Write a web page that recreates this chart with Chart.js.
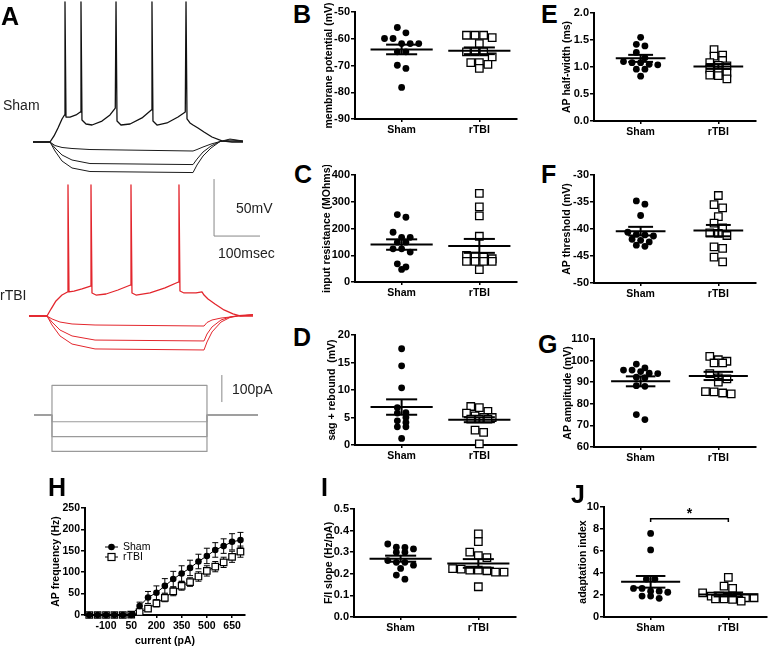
<!DOCTYPE html>
<html>
<head>
<meta charset="utf-8">
<script src="https://cdn.jsdelivr.net/npm/chart.js@4.4.1/dist/chart.umd.min.js"></script>
<style>
  body { margin: 0; background: #fff; }
  #fig { position: relative; width: 771px; height: 648px; overflow: hidden; font-family: 'Liberation Sans', Arial, Helvetica, sans-serif; }
  #fig canvas { position: absolute; }
  .lt { position: absolute; font-weight: bold; font-size: 25px; line-height: 1; color: #000; }
  .tx { position: absolute; font-size: 14px; line-height: 1; color: #222; white-space: nowrap; }
</style>
</head>
<body>
<div id="fig">
  <canvas id="aSham"></canvas>
  <canvas id="aRtbi"></canvas>
  <canvas id="aStim"></canvas>
  <canvas id="cB"></canvas><canvas id="cC"></canvas><canvas id="cD"></canvas>
  <canvas id="cE"></canvas><canvas id="cF"></canvas><canvas id="cG"></canvas>
  <canvas id="cH"></canvas><canvas id="cI"></canvas><canvas id="cJ"></canvas>

  <div class="lt" style="left:1px;top:4px">A</div>
  <div class="lt" style="left:293px;top:2px">B</div>
  <div class="lt" style="left:294px;top:162px">C</div>
  <div class="lt" style="left:293px;top:325px">D</div>
  <div class="lt" style="left:541px;top:2px">E</div>
  <div class="lt" style="left:541px;top:162px">F</div>
  <div class="lt" style="left:538px;top:332px">G</div>
  <div class="lt" style="left:48px;top:475px">H</div>
  <div class="lt" style="left:321px;top:475px">I</div>
  <div class="lt" style="left:571px;top:482px">J</div>

  <div class="tx" style="left:3px;top:98px">Sham</div>
  <div class="tx" style="left:0px;top:288px">rTBI</div>
  <div class="tx" style="left:236px;top:201px">50mV</div>
  <div class="tx" style="left:218px;top:246px">100msec</div>
  <div class="tx" style="left:232px;top:382px">100pA</div>
</div>

<script>
Chart.defaults.font.family = "'Liberation Sans', Arial, Helvetica, sans-serif";
Chart.defaults.color = '#000';

const groups = ['Sham', 'rTBI'];

// ---- A: example traces (ms, mV) ----
const shamSpikeT = [0, 27.4, 33.9, 40.3, 46.8, 50.8, 51.6, 53.2, 59.7, 69.4, 76.3, 77.4, 79.0, 85.5, 95.2, 111.3, 124.2, 132.7, 133.9, 135.5, 141.9, 156.5, 175.8, 190.8, 191.9, 193.5, 200.0, 216.1, 233.9, 245.6, 246.8, 248.4, 253.2, 258.1, 266.1, 275.8, 288.7, 304.8, 321.0, 338.7];
const shamSpikeV = [-65, -65, -59.7, -52.7, -44.8, -41.3, 57.8, -43.1, -43.1, -41.3, -38.7, 57.8, -45.7, -49.2, -50.1, -46.6, -41.3, -35.2, 57.8, -46.6, -50.1, -49.2, -43.9, -36.9, 57.8, -46.6, -50.1, -48.3, -43.1, -38.7, 57.8, -44.8, -48.3, -50.1, -52.7, -56.2, -60.6, -64.1, -65, -65];
const shamHypT = [0, 27.4, 35.5, 46.8, 62.9, 91.9, 258.1, 264.5, 274.2, 287.1, 301.6, 317.7, 338.7];
const shamHyp1 = [-65, -65, -68.1, -69.8, -70.7, -71.6, -72.9, -71.6, -69.4, -66.8, -64.6, -64.1, -64.6];
const shamHyp2 = [-65, -65, -70.3, -76.4, -80.8, -83.9, -84.8, -80.0, -73.8, -68.5, -64.6, -63.2, -64.1];
const shamHyp3 = [-65, -65, -72.9, -81.7, -87.8, -90.9, -91.8, -85.2, -77.3, -70.3, -64.6, -62.4, -64.1];

const rtbiSpikeT = [0, 29, 35.5, 43.5, 53.2, 62.1, 62.9, 64.5, 72.6, 85.5, 99.2, 100, 101.6, 108.1, 124.2, 143.5, 163.7, 164.5, 166.1, 172.6, 195.2, 219.4, 241.1, 241.9, 243.5, 250, 269.4, 279, 282.3, 288.7, 300, 314.5, 329, 340.3, 361.3];
const rtbiSpikeV = [-65, -65, -58.9, -51.8, -46.6, -43.9, 49.9, -43.9, -43.1, -41.3, -38.7, 49.9, -44.8, -46.6, -45.7, -42.2, -37.8, 49.9, -44.8, -46.6, -44.8, -40.4, -35.2, 49.9, -43.1, -44.8, -44.8, -43.9, -46.6, -50.1, -54.5, -59.7, -63.2, -65, -65];
const rtbiHypT = [0, 29, 37.1, 50, 69.4, 106.5, 282.3, 287.1, 295.2, 309.7, 324.2, 337.1, 361.3];
const rtbiHyp1 = [-65, -65, -67.6, -70.3, -72, -72.9, -73.8, -70.7, -68.5, -66.8, -65.9, -65, -64.1];
const rtbiHyp2 = [-65, -65, -70.3, -77.3, -82.5, -86.1, -86.9, -80.8, -74.6, -68.5, -65.9, -64.6, -63.7];
const rtbiHyp3 = [-65, -65, -72.9, -82.5, -89.6, -93.9, -94.8, -87.8, -79, -70.3, -66.3, -65, -64.1];

// current steps (pA), on at 29 ms, off at 279 ms
const stimAmps = [110, -25, -80, -135];
const stimOn = 29, stimOff = 279, stimEnd = 361.3;

// ---- B-G, I, J: single cells ----
const bSham = [-55.8, -57.8, -59.9, -59.9, -61.8, -61.8, -61.8, -64.9, -64.9, -69.9, -71.1, -78.2];
const bRtbi = [-58.7, -58.7, -59.6, -58.7, -61.8, -64.9, -64.9, -64.9, -66.8, -68.9, -71.1, -69.6, -68.9];
const cSham = [252, 242, 186, 167, 167, 149, 149, 124, 112, 124, 68, 47, 56];
const cRtbi = [331, 281, 247, 171, 97, 87, 93, 99, 77, 77, 77, 77, 46];
const dSham = [17.5, 14.4, 10.4, 6.8, 5.9, 5.8, 5.0, 4.4, 4.1, 3.3, 3.3, 1.2];
const dRtbi = [5.8, 6.8, 6.1, 7.0, 5.3, 5.0, 5.0, 4.7, 4.7, 4.7, 2.7, 2.3, 0.2];
const eSham = [1.55, 1.42, 1.39, 1.27, 1.17, 1.08, 1.08, 1.10, 1.05, 1.04, 0.96, 0.96, 0.83];
const eRtbi = [1.32, 1.20, 1.22, 1.08, 1.12, 1.03, 1.02, 0.91, 0.85, 0.78, 0.84, 0.89, 0.96];
const fSham = [-34.8, -35.4, -37.5, -40.6, -41.0, -41.1, -41.3, -41.9, -42.1, -42.4, -43.2, -43.0];
const fRtbi = [-33.8, -35.5, -36.1, -37.7, -38.9, -39.8, -40.7, -41.2, -40.8, -43.3, -43.6, -45.2, -46.1];
const gSham = [98.4, 95.6, 95.6, 96.6, 94.9, 94.2, 94.0, 92.3, 92.1, 88.1, 88.4, 75.0, 72.7];
const gRtbi = [100.4, 98.9, 98.9, 99.7, 102.0, 94.0, 91.5, 92.0, 90.0, 85.5, 84.6, 85.0, 85.6];
const iSham = [0.323, 0.315, 0.338, 0.322, 0.300, 0.300, 0.261, 0.240, 0.253, 0.253, 0.225, 0.194, 0.175];
const iRtbi = [0.385, 0.349, 0.300, 0.275, 0.284, 0.222, 0.217, 0.208, 0.208, 0.214, 0.217, 0.224, 0.140];
const jSham = [7.6, 6.1, 3.45, 3.45, 2.25, 1.9, 1.7, 1.9, 2.35, 2.35, 2.6, 2.6];
const jRtbi = [3.6, 2.8, 2.6, 2.2, 1.9, 1.8, 1.75, 1.65, 1.65, 1.75, 1.8, 1.9, 1.45, 1.6];

// mean / SEM per group [Sham, rTBI]
const bMean = [-64.0, -64.5], bSem = [1.8, 1.25];
const cMean = [140, 135], cSem = [19.5, 26];
const dMean = [6.9, 4.6], dSem = [1.4, 0.45];
const eMean = [1.16, 1.01], eSem = [0.065, 0.045];
const fMean = [-40.4, -40.3], fSem = [0.8, 1.05];
const gMean = [90.4, 92.9], gSem = [2.3, 1.9];
const iMean = [0.27, 0.248], iSem = [0.014, 0.02];
const jMean = [3.2, 2.05], jSem = [0.53, 0.18];

// ---- H: F/I curve ----
const currents = [-200, -150, -100, -50, 0, 50, 100, 150, 200, 250, 300, 350, 400, 450, 500, 550, 600, 650, 700];
const hShamFreq = [0, 0, 0, 0, 0, 0, 21, 41, 52, 68, 84, 97, 110, 125, 138, 152, 161, 171, 175];
const hShamSem = [0, 0, 0, 0, 0, 0, 9, 14, 16, 17, 18, 18, 18, 17, 18, 17, 17, 19, 18];
const hRtbiFreq = [0, 0, 0, 0, 0, 1, 7, 15, 27, 40, 55, 68, 77, 90, 103, 113, 123, 136, 148];
const hRtbiSem = [0, 0, 0, 0, 0, 1, 4, 6, 8, 9, 10, 10, 10, 11, 12, 12, 12, 13, 13];
const hTicks = [-100, 50, 200, 350, 500, 650];

function pairs(xs, ys) { return xs.map((x, i) => ({ x: x, y: ys[i] })); }

function place(id, left, top, w, h) {
  const c = document.getElementById(id);
  c.style.left = left + 'px';
  c.style.top = top + 'px';
  c.width = w; c.height = h;
  return c;
}

function traceLine(data, color, width) {
  return { data: data, showLine: true, borderColor: color, borderWidth: width, pointRadius: 0,
           borderJoinStyle: 'round', clip: false };
}

function traceChart(canvas, datasets, xr, yr, extra) {
  return new Chart(canvas, {
    type: 'scatter',
    data: { datasets: datasets },
    options: {
      responsive: false, animation: false,
      layout: { padding: 0 },
      plugins: { legend: { display: false }, tooltip: { enabled: false } },
      scales: {
        x: { type: 'linear', display: false, min: xr[0], max: xr[1] },
        y: { type: 'linear', display: false, min: yr[0], max: yr[1] }
      }
    },
    plugins: extra ? [extra] : []
  });
}

// scale bar drawn in data units
function scaleBar(t0, v0, dv, dt) {
  return {
    id: 'scaleBar',
    afterDatasetsDraw(chart) {
      const { ctx, scales: { x, y } } = chart;
      ctx.save();
      ctx.strokeStyle = '#888'; ctx.lineWidth = 1;
      ctx.beginPath();
      ctx.moveTo(x.getPixelForValue(t0), y.getPixelForValue(v0 + dv));
      ctx.lineTo(x.getPixelForValue(t0), y.getPixelForValue(v0));
      if (dt) ctx.lineTo(x.getPixelForValue(t0 + dt), y.getPixelForValue(v0));
      ctx.stroke();
      ctx.restore();
    }
  };
}

// black traces
traceChart(place('aSham', 0, 0, 260, 260), [
  traceLine(pairs(shamHypT, shamHyp1), '#1a1a1a', 1),
  traceLine(pairs(shamHypT, shamHyp2), '#1a1a1a', 1),
  traceLine(pairs(shamHypT, shamHyp3), '#1a1a1a', 1),
  traceLine(pairs(shamSpikeT, shamSpikeV), '#111', 1.3)
], [-53.23, 366.13], [-168.51, 59.56], scaleBar(292, -147.5, 50, 100));

// red traces
traceChart(place('aRtbi', 0, 170, 260, 200), [
  traceLine(pairs(rtbiHypT, rtbiHyp1), '#e3262d', 1),
  traceLine(pairs(rtbiHypT, rtbiHyp2), '#e3262d', 1),
  traceLine(pairs(rtbiHypT, rtbiHyp3), '#e3262d', 1),
  traceLine(pairs(rtbiSpikeT, rtbiSpikeV), '#e3262d', 1.3)
], [-46.77, 372.58], [-112.37, 63.07]);

// current steps
traceChart(place('aStim', 0, 365, 260, 95),
  stimAmps.map(a => traceLine(pairs([0, stimOn, stimOn, stimOff, stimOff, stimEnd], [0, 0, a, a, 0, 0]), '#9a9a9a', 1.2)),
  [-54.84, 364.52], [-166.7, 185.2], scaleBar(303, 48, 100, 0));

// horizontal spread of points with similar values (column scatter)
function swarm(vals, center, pxY, pxX) {
  const D = 8.6;
  const order = vals.map((v, i) => i).sort((a, b) => vals[b] - vals[a]);
  const rows = [];
  order.forEach(i => {
    const r = rows[rows.length - 1];
    if (r && (vals[r[0]] - vals[i]) * pxY < 5.5) r.push(i); else rows.push([i]);
  });
  const out = [];
  rows.forEach(r => r.forEach((i, k) => out.push({ x: center + (k - (r.length - 1) / 2) * D / pxX, y: vals[i] })));
  return out;
}

function meanSem(mean, sem, half) {
  return {
    id: 'meanSem',
    afterDatasetsDraw(chart) {
      const { ctx, scales: { x, y } } = chart;
      ctx.save();
      ctx.strokeStyle = '#000'; ctx.lineWidth = 2;
      mean.forEach((m, i) => {
        const c = i + 1, s = sem[i];
        const seg = (x1, v1, x2, v2) => {
          ctx.beginPath();
          ctx.moveTo(x.getPixelForValue(x1), y.getPixelForValue(v1));
          ctx.lineTo(x.getPixelForValue(x2), y.getPixelForValue(v2));
          ctx.stroke();
        };
        seg(c - half, m, c + half, m);
        seg(c - half / 2, m + s, c + half / 2, m + s);
        seg(c - half / 2, m - s, c + half / 2, m - s);
        seg(c, m - s, c, m + s);
      });
      ctx.restore();
    }
  };
}

function bracket(at, drop, label) {
  return {
    id: 'bracket',
    afterDatasetsDraw(chart) {
      const { ctx, scales: { x, y } } = chart;
      const x1 = x.getPixelForValue(1), x2 = x.getPixelForValue(2);
      const yy = y.getPixelForValue(at), yd = y.getPixelForValue(at - drop);
      ctx.save();
      ctx.strokeStyle = '#000'; ctx.lineWidth = 1.5;
      ctx.beginPath();
      ctx.moveTo(x1, yd); ctx.lineTo(x1, yy); ctx.lineTo(x2, yy); ctx.lineTo(x2, yd);
      ctx.stroke();
      ctx.fillStyle = '#000';
      ctx.font = "bold 14px 'Liberation Sans', Arial, sans-serif";
      ctx.textAlign = 'center'; ctx.textBaseline = 'alphabetic';
      ctx.fillText(label, (x1 + x2) / 2, yy - 1);
      ctx.restore();
    }
  };
}

const axisBorder = { display: true, color: '#000', width: 2 };

function columnPanel(id, p) {
  const left = Math.round(p.titleX - 6.3);
  const top = p.top - 10;
  const yw = p.axisX - left, xh = 22;
  const canvas = place(id, left, top, p.right + 6 - left, p.bottom - p.top + 10 + xh);
  const pxX = 78;
  const pxY = (p.bottom - p.top) / (p.max - p.min);
  const extra = [meanSem(p.mean, p.sem, p.half)];
  if (p.bracket) extra.push(p.bracket);
  new Chart(canvas, {
    type: 'scatter',
    data: {
      datasets: [
        { data: swarm(p.sham, 1, pxY, pxX), pointStyle: 'circle', pointRadius: 3.4,
          backgroundColor: '#000', borderWidth: 0, clip: false },
        { data: swarm(p.rtbi, 2, pxY, pxX), pointStyle: 'rect', pointRadius: 5.3,
          backgroundColor: '#fff', borderColor: '#000', borderWidth: 1.3, clip: false }
      ]
    },
    options: {
      responsive: false, animation: false,
      layout: { padding: { top: 10, right: 6, left: 0, bottom: 0 } },
      plugins: { legend: { display: false }, tooltip: { enabled: false } },
      scales: {
        x: {
          type: 'linear', min: 0.4, max: 0.4 + (p.right - p.axisX) / pxX,
          afterBuildTicks: s => { s.ticks = [{ value: 1 }, { value: 2 }]; },
          afterFit: s => { s.height = xh; },
          ticks: { callback: v => groups[v - 1], font: { size: 10.5, weight: 'bold' }, padding: 2,
                   maxRotation: 0, autoSkip: false },
          grid: { drawOnChartArea: false, tickLength: 3, color: '#000', lineWidth: 1.5 },
          border: axisBorder
        },
        y: {
          min: p.min, max: p.max,
          afterFit: s => { s.width = yw; },
          ticks: { stepSize: p.step, font: { size: 11, weight: 'bold' }, padding: 1,
                   callback: v => p.dec ? v.toFixed(p.dec) : v },
          grid: { drawOnChartArea: false, tickLength: 4, color: '#000', lineWidth: 1.5 },
          border: axisBorder,
          title: { display: true, text: p.title, font: { size: 10.5, weight: 'bold' }, padding: 0 }
        }
      }
    },
    plugins: extra
  });
}

columnPanel('cB', { titleX: 329, axisX: 355, top: 12, bottom: 119, right: 517, min: -90, max: -50, step: 10,
  title: 'membrane potential (mV)', sham: bSham, rtbi: bRtbi, mean: bMean, sem: bSem, half: 0.4 });
columnPanel('cC', { titleX: 327, axisX: 355, top: 175, bottom: 282, right: 517, min: 0, max: 400, step: 100,
  title: 'input resistance (MOhms)', sham: cSham, rtbi: cRtbi, mean: cMean, sem: cSem, half: 0.4 });
columnPanel('cD', { titleX: 332, axisX: 355, top: 335, bottom: 445, right: 517, min: 0, max: 20, step: 5,
  title: 'sag + rebound  (mV)', sham: dSham, rtbi: dRtbi, mean: dMean, sem: dSem, half: 0.4 });
columnPanel('cE', { titleX: 567, axisX: 594, top: 13, bottom: 121, right: 756, min: 0, max: 2, step: 0.5, dec: 1,
  title: 'AP half-width (ms)', sham: eSham, rtbi: eRtbi, mean: eMean, sem: eSem, half: 0.32 });
columnPanel('cF', { titleX: 567, axisX: 594, top: 175, bottom: 283, right: 756, min: -50, max: -30, step: 5,
  title: 'AP threshold (mV)', sham: fSham, rtbi: fRtbi, mean: fMean, sem: fSem, half: 0.32 });
columnPanel('cG', { titleX: 568, axisX: 594, top: 339, bottom: 447, right: 756, min: 60, max: 110, step: 10,
  title: 'AP amplitude (mV)', sham: gSham, rtbi: gRtbi, mean: gMean, sem: gSem, half: 0.38 });
columnPanel('cI', { titleX: 329, axisX: 354, top: 509, bottom: 617, right: 516, min: 0, max: 0.5, step: 0.1, dec: 1,
  title: 'F/I slope (Hz/pA)', sham: iSham, rtbi: iRtbi, mean: iMean, sem: iSem, half: 0.4 });
columnPanel('cJ', { titleX: 583, axisX: 604, top: 507, bottom: 617, right: 767, min: 0, max: 10, step: 2,
  title: 'adaptation index', sham: jSham, rtbi: jRtbi, mean: jMean, sem: jSem, half: 0.38,
  bracket: bracket(8.94, 0.3, '*') });

// ---- H ----
const errorBars = {
  id: 'errorBars',
  beforeDatasetsDraw(chart) {
    const { ctx, scales: { x, y } } = chart;
    ctx.save();
    ctx.strokeStyle = '#000'; ctx.lineWidth = 1;
    [[hShamFreq, hShamSem], [hRtbiFreq, hRtbiSem]].forEach(([m, e]) => {
      currents.forEach((c, i) => {
        if (!e[i]) return;
        const px = x.getPixelForValue(c);
        const t = y.getPixelForValue(m[i] + e[i]), b = y.getPixelForValue(m[i] - e[i]);
        ctx.beginPath();
        ctx.moveTo(px, t); ctx.lineTo(px, b);
        ctx.moveTo(px - 3, t); ctx.lineTo(px + 3, t);
        ctx.moveTo(px - 3, b); ctx.lineTo(px + 3, b);
        ctx.stroke();
      });
    });
    ctx.restore();
  }
};

const hLegend = {
  id: 'hLegend',
  afterDatasetsDraw(chart) {
    const { ctx, chartArea: a } = chart;
    ctx.save();
    ctx.font = "10.5px 'Liberation Sans', Arial, sans-serif";
    ctx.textBaseline = 'middle';
    groups.forEach((g, i) => {
      const y = a.top + 39 + i * 10, x0 = a.left + 20, xm = x0 + 6.5;
      ctx.strokeStyle = '#000'; ctx.lineWidth = 1;
      ctx.beginPath(); ctx.moveTo(x0, y); ctx.lineTo(x0 + 13, y); ctx.stroke();
      if (i === 0) {
        ctx.fillStyle = '#000';
        ctx.beginPath(); ctx.arc(xm, y, 3.3, 0, Math.PI * 2); ctx.fill();
      } else {
        ctx.fillStyle = '#fff'; ctx.fillRect(xm - 3.5, y - 3.5, 7, 7);
        ctx.lineWidth = 1.2; ctx.strokeRect(xm - 3.5, y - 3.5, 7, 7);
      }
      ctx.fillStyle = '#000';
      ctx.fillText(g, x0 + 18, y);
    });
    ctx.restore();
  }
};

(function () {
  const left = 50, top = 498;
  const canvas = place('cH', left, top, 253 - left, 647 - top);
  new Chart(canvas, {
    type: 'scatter',
    data: {
      datasets: [
        { data: pairs(currents, hShamFreq), showLine: true, borderColor: '#000', borderWidth: 1,
          pointStyle: 'circle', pointRadius: 3.3, pointBackgroundColor: '#000', pointBorderWidth: 0, clip: false },
        { data: pairs(currents, hRtbiFreq), showLine: true, borderColor: '#000', borderWidth: 1,
          pointStyle: 'rect', pointRadius: 4.6, pointBackgroundColor: '#fff', pointBorderColor: '#000',
          pointBorderWidth: 1.2, clip: false }
      ]
    },
    options: {
      responsive: false, animation: false,
      layout: { padding: { top: 10, right: 8, left: 0, bottom: 0 } },
      plugins: { legend: { display: false }, tooltip: { enabled: false } },
      scales: {
        x: {
          type: 'linear', min: -225, max: 727,
          afterBuildTicks: s => { s.ticks = hTicks.map(v => ({ value: v })); },
          afterFit: s => { s.height = 32; },
          ticks: { font: { size: 10.5, weight: 'bold' }, padding: 2, maxRotation: 0, autoSkip: false },
          grid: { drawOnChartArea: false, tickLength: 3, color: '#000', lineWidth: 1.5 },
          border: axisBorder,
          title: { display: true, text: 'current (pA)', font: { size: 10.5, weight: 'bold' }, padding: 0 }
        },
        y: {
          min: 0, max: 250,
          afterFit: s => { s.width = 85 - left; },
          ticks: { stepSize: 50, font: { size: 10.5, weight: 'bold' }, padding: 1 },
          grid: { drawOnChartArea: false, tickLength: 4, color: '#000', lineWidth: 1.5 },
          border: axisBorder,
          title: { display: true, text: 'AP frequency (Hz)', font: { size: 10.5, weight: 'bold' }, padding: 0 }
        }
      }
    },
    plugins: [errorBars, hLegend]
  });
})();
</script>
</body>
</html>
